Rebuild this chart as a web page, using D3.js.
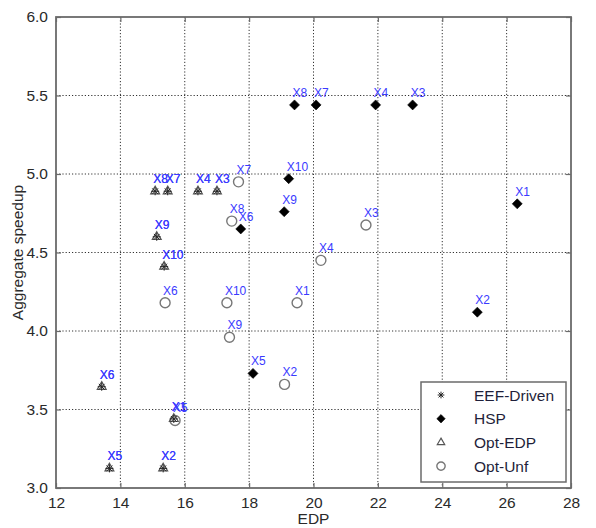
<!DOCTYPE html>
<html>
<head>
<meta charset="utf-8">
<script src="https://cdn.jsdelivr.net/npm/d3@7"></script>
<style>
  body { margin: 0; background: #fff; }
  svg text { font-family: "Liberation Sans", Arial, sans-serif; }
</style>
</head>
<body>
<svg id="chart" width="596" height="528"></svg>
<script>
const xTicks = [12, 14, 16, 18, 20, 22, 24, 26, 28];
const yTicks = [3.0, 3.5, 4.0, 4.5, 5.0, 5.5, 6.0];
const names = ["X1", "X2", "X3", "X4", "X5", "X6", "X7", "X8", "X9", "X10"];

// EEF-Driven and Opt-EDP land on the same points
const eefEdp = [15.66, 15.33, 17.0, 16.41, 13.66, 13.42, 15.47, 15.08, 15.13, 15.36];
const eefSpeed = [3.44, 3.125, 4.89, 4.89, 3.125, 3.645, 4.89, 4.89, 4.60, 4.41];
const optEdpEdp = eefEdp.slice();
const optEdpSpeed = eefSpeed.slice();

const hspEdp = [26.33, 25.09, 23.08, 21.93, 18.12, 17.74, 20.08, 19.41, 19.09, 19.23];
const hspSpeed = [4.81, 4.12, 5.44, 5.44, 3.73, 4.65, 5.44, 5.44, 4.76, 4.97];

const unfEdp = [19.49, 19.10, 21.63, 20.23, 15.70, 15.39, 17.67, 17.46, 17.39, 17.31];
const unfSpeed = [4.18, 3.66, 4.675, 4.45, 3.43, 4.18, 4.95, 4.70, 3.96, 4.18];

const legendNames = ["EEF-Driven", "HSP", "Opt-EDP", "Opt-Unf"];

const chart = d3.select("#chart");
const plotL = 56, plotR = 571, plotT = 17, plotB = 488;
const axisColor = "#6b6b6b";
const labelColor = "#3a3aff";

const x = d3.scaleLinear().domain([12, 28]).range([plotL, plotR]);
const y = d3.scaleLinear().domain([3, 6]).range([plotB, plotT]);

// matlab style '*' : plus and times together
const asterisk = {
    draw(ctx, size) {
        const r = Math.sqrt(size) / 2;
        const d = r * 0.72;
        ctx.moveTo(-r, 0); ctx.lineTo(r, 0);
        ctx.moveTo(0, -r); ctx.lineTo(0, r);
        ctx.moveTo(-d, -d); ctx.lineTo(d, d);
        ctx.moveTo(-d, d); ctx.lineTo(d, -d);
    }
};

// matlab 'd' marker, a square turned 45 degrees
const diamond = {
    draw(ctx, size) {
        const r = Math.sqrt(size) / 2;
        ctx.moveTo(0, -r);
        ctx.lineTo(r, 0);
        ctx.lineTo(0, r);
        ctx.lineTo(-r, 0);
        ctx.closePath();
    }
};

// grid
const grid = chart.append("g").attr("id", "grid");
grid.selectAll("line.gx")
    .data(xTicks.slice(1, -1))
    .enter().append("line")
    .attr("class", "gx")
    .attr("x1", d => x(d)).attr("x2", d => x(d))
    .attr("y1", plotT).attr("y2", plotB);
grid.selectAll("line.gy")
    .data(yTicks.slice(1, -1))
    .enter().append("line")
    .attr("class", "gy")
    .attr("x1", plotL).attr("x2", plotR)
    .attr("y1", d => y(d)).attr("y2", d => y(d));
grid.selectAll("line")
    .attr("stroke", "#333")
    .attr("stroke-width", 1)
    .attr("stroke-dasharray", "1.2,2");

// axes with inward ticks
chart.append("g")
    .attr("transform", "translate(0," + plotB + ")")
    .call(d3.axisBottom(x).tickValues(xTicks).tickSize(-5).tickPadding(9).tickFormat(d3.format("d")));
chart.append("g")
    .attr("transform", "translate(0," + plotT + ")")
    .call(d3.axisTop(x).tickValues(xTicks).tickSize(-5).tickFormat(""));
chart.append("g")
    .attr("transform", "translate(" + plotL + ",0)")
    .call(d3.axisLeft(y).tickValues(yTicks).tickSize(-5).tickPadding(8).tickFormat(d3.format(".1f")));
chart.append("g")
    .attr("transform", "translate(" + plotR + ",0)")
    .call(d3.axisRight(y).tickValues(yTicks).tickSize(-5).tickFormat(""));

chart.selectAll(".domain").remove();
chart.selectAll(".tick line").attr("stroke", axisColor).attr("stroke-width", 1.2);
chart.selectAll(".tick text")
    .attr("font-size", "15.5px")
    .attr("fill", "#2a2a2a")
    .attr("font-family", "Liberation Sans, Arial, sans-serif");

chart.append("rect")
    .attr("x", plotL).attr("y", plotT)
    .attr("width", plotR - plotL).attr("height", plotB - plotT)
    .attr("fill", "none")
    .attr("stroke", axisColor)
    .attr("stroke-width", 1.8);

// axis titles
chart.append("text")
    .text("EDP")
    .attr("x", x(20)).attr("y", 524)
    .attr("text-anchor", "middle")
    .attr("font-size", "15.5px")
    .attr("fill", "#2a2a2a");
chart.append("text")
    .text("Aggregate speedup")
    .attr("transform", "translate(23," + ((plotT + plotB) / 2) + ") rotate(-90)")
    .attr("text-anchor", "middle")
    .attr("font-size", "15.5px")
    .attr("fill", "#2a2a2a");

function series(xs, ys) {
    return names.map((n, i) => ({ name: n, edp: xs[i], speed: ys[i] }));
}

const plot = chart.append("g").attr("id", "points");

function drawMarks(data, kind) {
    const g = plot.append("g").attr("class", kind);
    const sym = g.selectAll("path")
        .data(data)
        .enter().append("path")
        .attr("transform", d => "translate(" + x(d.edp) + "," + y(d.speed) + ")");
    styleSymbol(sym, kind, 1);
    g.selectAll("text")
        .data(data)
        .enter().append("text")
        .text(d => d.name)
        .attr("x", d => x(d.edp) - 2)
        .attr("y", d => y(d.speed) - 8)
        .attr("font-size", "12px")
        .attr("fill", labelColor);
}

function styleSymbol(sel, kind, k) {
    if (kind === "eef") {
        sel.attr("d", d3.symbol().type(asterisk).size(64 * k))
            .attr("fill", "none").attr("stroke", "#222").attr("stroke-width", 1);
    } else if (kind === "hsp") {
        sel.attr("d", d3.symbol().type(diamond).size(100 * k))
            .attr("fill", "#000").attr("stroke", "#000").attr("stroke-width", 0.6);
    } else if (kind === "edp") {
        sel.attr("d", d3.symbol().type(d3.symbolTriangle).size(34 * k))
            .attr("fill", "none").attr("stroke", "#555").attr("stroke-width", 1.2);
    } else {
        sel.attr("d", d3.symbol().type(d3.symbolCircle).size(78 * k))
            .attr("fill", "none").attr("stroke", "#777").attr("stroke-width", 1.4);
    }
}

drawMarks(series(unfEdp, unfSpeed), "unf");
drawMarks(series(optEdpEdp, optEdpSpeed), "edp");
drawMarks(series(eefEdp, eefSpeed), "eef");
drawMarks(series(hspEdp, hspSpeed), "hsp");

// legend
const legend = chart.append("g").attr("id", "legend");
legend.append("rect")
    .attr("x", 421).attr("y", 382)
    .attr("width", 145).attr("height", 100)
    .attr("fill", "#fff")
    .attr("stroke", axisColor)
    .attr("stroke-width", 1.5);
const kinds = ["eef", "hsp", "edp", "unf"];
const rows = legend.selectAll("g.row")
    .data(legendNames)
    .enter().append("g")
    .attr("class", "row")
    .attr("transform", (d, i) => "translate(441," + (395 + i * 23.7) + ")");
rows.append("path").each(function (d, i) {
    styleSymbol(d3.select(this), kinds[i], 0.7);
});
rows.append("text")
    .text(d => d)
    .attr("x", 33)
    .attr("dy", "0.36em")
    .attr("font-size", "15.5px")
    .attr("fill", "#1f1f3a");
</script>
</body>
</html>
